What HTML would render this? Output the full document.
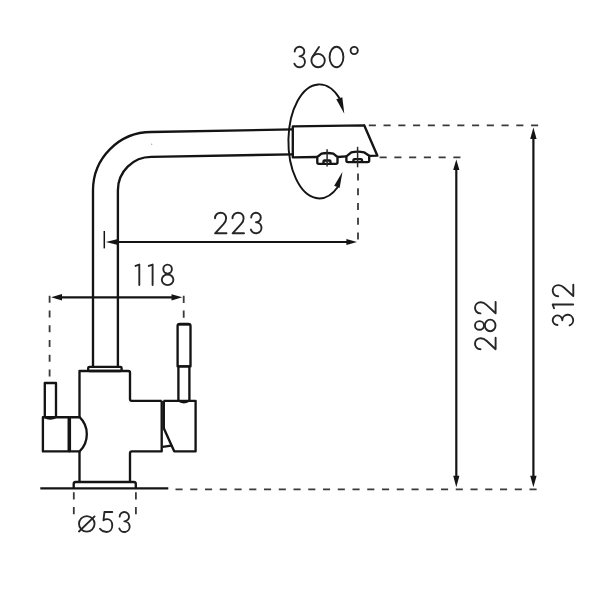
<!DOCTYPE html>
<html><head><meta charset="utf-8"><style>
html,body{margin:0;padding:0;background:#fff;}
body{width:600px;height:600px;overflow:hidden;font-family:"Liberation Sans",sans-serif;}
svg{display:block;}
</style></head><body><svg width="600" height="600" viewBox="0 0 600 600"><g fill="none" stroke="#141414" stroke-width="2.35" stroke-linejoin="round"><path d="M93,367 L93,190.3 A58.3,58.3 0 0 1 151.3,132 L292.8,129.4"/><path d="M117.9,367 L117.9,190.3 A33.4,33.4 0 0 1 151.3,156.9 L292.8,154.3"/><path d="M317.3,157 L292.8,157.4 L292.8,126.4 L364.2,125.3 L377.4,155.7 L369.2,155.8 M346.4,156.4 L337.5,157"/><path d="M317.3,157 L317.3,162.3 Q317.3,163.8 318.8,163.8 L336,163.8 Q337.5,163.8 337.5,162.3 L337.5,157 L333.3,153.7 Q327.4,152.3 321.5,153.7 Z"/><path d="M323.5,163.8 L323.5,161.6 Q323.5,160.5 324.6,160.5 L329.4,160.5 Q330.5,160.5 330.5,161.6 L330.5,163.8"/><path d="M346.4,156.4 L346.4,160.6 Q346.4,162.1 347.9,162.1 L367.7,162.1 Q369.2,162.1 369.2,160.6 L369.2,155.8 L364,152.3 Q357.7,150.9 351.3,152.4 Z"/><path d="M353.4,162.1 L353.4,160.2 Q353.4,159.1 354.5,159.1 L360.9,159.1 Q362,159.1 362,160.2 L362,162.1"/><rect x="88.2" y="366.9" width="33.4" height="4.1" rx="1.2"/><path d="M79.5,417.5 L79.5,371 L128.3,371 Q130,371 130,372.7 L130,399.1 Q130,400.8 131.7,400.8 L161.7,400.8"/><path d="M161.7,400.8 L161.7,451.3 L132,451.3 Q130,451.3 130,453.3 L130,482"/><path d="M79.5,451.7 L79.5,482"/><rect x="42.9" y="417.2" width="25.8" height="34.2"/><path d="M69.9,417.2 L79.6,417.2 Q86.8,424 86.8,434.2 Q86.8,444.5 79.6,451.4 L69.9,451.4 Z"/><path d="M44.8,417.2 L44.8,383 L56,383 L56,417.2"/><path d="M44.8,417.2 Q47,418.8 50.4,418.7 Q53.5,418.6 56,417.2" stroke-width="2"/><path d="M163.5,400.8 L195.6,400.8 L195.6,451.3 L174.2,451.3 L163.8,428.3 L163.8,400.8"/><path d="M162.5,446.8 L171.2,445.6"/><path d="M178.4,400.6 L178.4,366.3 L189.4,366.3 L189.4,400.6"/><path d="M178.4,400.6 Q180.5,402.5 183.9,402.5 Q187.3,402.5 189.4,400.6" stroke-width="2"/><path d="M177.6,366.3 L177.6,326 Q177.6,323.9 179.7,323.9 L188.4,323.9 Q190.5,323.9 190.5,326 L190.5,366.3 Z"/><path d="M178.4,324.4 L189.7,324.4" stroke-width="2.6"/><path d="M73.7,488.3 L73.7,484 Q73.7,482 75.7,482 L133.8,482 Q135.8,482 135.8,484 L135.8,488.3"/><path d="M40.3,488.3 L168.3,488.3"/></g><path d="M339.65,98.50 A30.9,57 0 1 0 337.84,187.00" fill="none" stroke="#141414" stroke-width="1.95"/><g fill="#141414"><polygon points="336.3,99.3 342.3,97.3 344.3,113.7"/><polygon points="342.5,171.7 334.2,185.8 339.6,187.9"/></g><g fill="none" stroke="#141414" stroke-width="2.2"><path d="M110,242 L350,242"/><path d="M104.3,231 L104.3,248.4" stroke-width="1.5"/><path d="M56,297.3 L175,297.3"/><path d="M456.3,166 L456.3,481"/><path d="M533.4,134 L533.4,481"/></g><g fill="#141414"><polygon points="105.80,242.00 118.00,238.90 118.00,245.10"/><polygon points="357.00,242.00 346.40,245.00 346.40,239.00"/><polygon points="51.10,297.30 62.00,294.10 62.00,300.50"/><polygon points="182.30,297.30 171.50,300.40 171.50,294.20"/><polygon points="456.30,159.60 459.40,170.00 453.20,170.00"/><polygon points="456.30,487.30 453.20,475.70 459.40,475.70"/><polygon points="533.40,127.50 536.60,139.00 530.20,139.00"/><polygon points="533.40,487.30 530.20,475.70 536.60,475.70"/></g><g fill="none" stroke="#3a3a3a" stroke-width="1.8" stroke-dasharray="7.1 7.65"><path d="M368.8,125.4 L540,125.4"/><path d="M379.6,157.4 L462,157.4"/><path d="M175.5,489.4 L537,489.4"/><path d="M358,173.5 L358,241"/><path d="M49.6,295.75 L49.6,378"/><path d="M183.7,295.8 L183.7,318"/><path d="M73.8,492.3 L73.8,516"/><path d="M135.9,492.3 L135.9,516"/></g><g fill="none" stroke="#2a2a2a" stroke-width="1.5"><path d="M327.1,149.2 L327.1,166.5"/><path d="M357.6,146.8 L357.6,167.3"/></g><g fill="none" stroke="#262626" stroke-width="1.9" stroke-linecap="round" stroke-linejoin="round"><g transform="translate(213.7,211.7) scale(1.0)"><path d="M1.3,6.5 C1.3,3.2 3.8,1 6.9,1 C10,1 12.4,3.3 12.4,6.8 C12.4,9.2 11.3,10.9 9.8,12.5 L1.4,21.6 L12.8,21.6"/></g><g transform="translate(231.2,211.7) scale(1.0)"><path d="M1.3,6.5 C1.3,3.2 3.8,1 6.9,1 C10,1 12.4,3.3 12.4,6.8 C12.4,9.2 11.3,10.9 9.8,12.5 L1.4,21.6 L12.8,21.6"/></g><g transform="translate(249.5,211.7) scale(1.0)"><path d="M1.7,5.8 A4.8,4.8 0 1 1 6.5,10.6 A5.45,5.45 0 1 1 1.38,17.9"/></g><g transform="translate(293,45.75) scale(1.0)"><path d="M1.7,5.8 A4.8,4.8 0 1 1 6.5,10.6 A5.45,5.45 0 1 1 1.38,17.9"/></g><g transform="translate(310.6,45.75) scale(1.0)"><circle cx="7.5" cy="14.8" r="6.7"/><path d="M8.4,1.2 L1.9,11.1"/></g><g transform="translate(328.6,45.75) scale(1.0)"><ellipse cx="7.9" cy="11.25" rx="6.9" ry="10.25"/></g><circle cx="354.2" cy="50.5" r="3.6"/><g transform="translate(134.6,263.6) scale(1.0)"><path d="M0.9,2.3 L4.7,1 L4.7,21.5"/></g><g transform="translate(147.9,263.6) scale(1.0)"><path d="M0.9,2.3 L4.7,1 L4.7,21.5"/></g><g transform="translate(160.8,263.6) scale(1.0)"><ellipse cx="6.8" cy="5.5" rx="4.3" ry="4.5"/><ellipse cx="6.8" cy="16.2" rx="5.8" ry="5.3"/></g><g transform="translate(78,511) scale(0.975)"><circle cx="9" cy="13.2" r="8"/><path d="M1,21 L17,5.5"/></g><g transform="translate(99,511) scale(0.975)"><path d="M13.6,1 L5.6,1 L4.6,9.5 C5.7,8.7 7,8.3 8.3,8.3 C11.4,8.3 13.6,11 13.6,14.8 C13.6,18.7 11.2,21.5 7.8,21.5 C4.9,21.5 2.5,20.2 1,18.2"/></g><g transform="translate(118,511) scale(0.975)"><path d="M1.7,5.8 A4.8,4.8 0 1 1 6.5,10.6 A5.45,5.45 0 1 1 1.38,17.9"/></g><g transform="translate(474,350.6) rotate(-90) translate(0,0)"><path d="M1.3,6.5 C1.3,3.2 3.8,1 6.9,1 C10,1 12.4,3.3 12.4,6.8 C12.4,9.2 11.3,10.9 9.8,12.5 L1.4,21.6 L12.8,21.6"/></g><g transform="translate(474,350.6) rotate(-90) translate(18.4,0)"><ellipse cx="6.8" cy="5.5" rx="4.3" ry="4.5"/><ellipse cx="6.8" cy="16.2" rx="5.8" ry="5.3"/></g><g transform="translate(474,350.6) rotate(-90) translate(35.9,0)"><path d="M1.3,6.5 C1.3,3.2 3.8,1 6.9,1 C10,1 12.4,3.3 12.4,6.8 C12.4,9.2 11.3,10.9 9.8,12.5 L1.4,21.6 L12.8,21.6"/></g><g transform="translate(551.7,326.7) rotate(-90) translate(0,0)"><path d="M1.7,5.8 A4.8,4.8 0 1 1 6.5,10.6 A5.45,5.45 0 1 1 1.38,17.9"/></g><g transform="translate(551.7,326.7) rotate(-90) translate(17.5,0)"><path d="M0.9,2.3 L4.7,1 L4.7,21.5"/></g><g transform="translate(551.7,326.7) rotate(-90) translate(29.2,0)"><path d="M1.3,6.5 C1.3,3.2 3.8,1 6.9,1 C10,1 12.4,3.3 12.4,6.8 C12.4,9.2 11.3,10.9 9.8,12.5 L1.4,21.6 L12.8,21.6"/></g></g><circle cx="151.7" cy="144.2" r="0.7" fill="#aaa"/></svg></body></html>
